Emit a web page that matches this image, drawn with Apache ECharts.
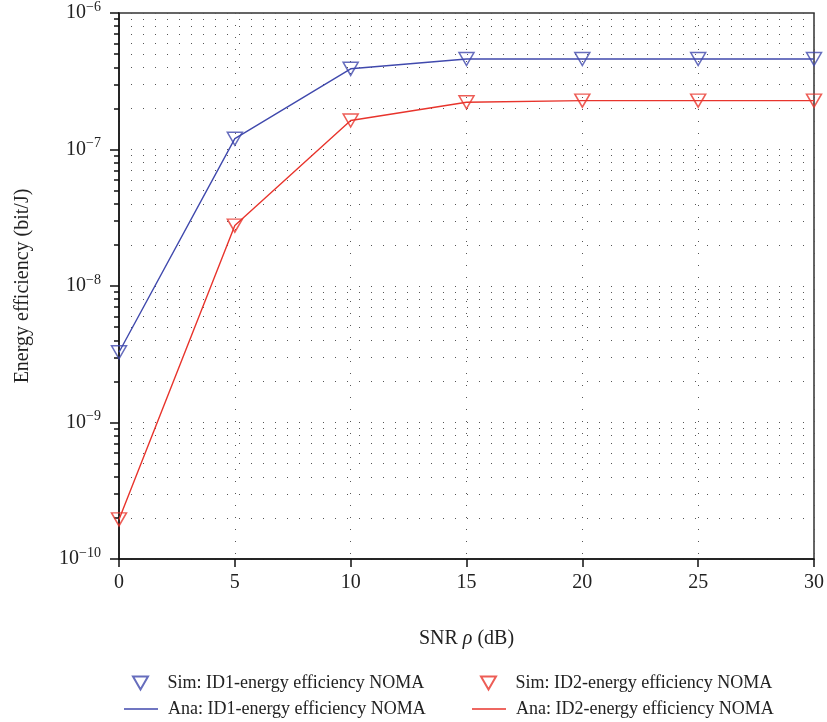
<!DOCTYPE html>
<html><head><meta charset="utf-8">
<script src="https://cdn.jsdelivr.net/npm/echarts@6/dist/echarts.min.js"></script>
<style>html,body{margin:0;padding:0;background:#fff}#c{width:827px;height:722px}</style>
</head><body><div id="c"></div>
<script>
// ---- data ----
const snr = [0, 5, 10, 15, 20, 25, 30];
const simID1 = [3.27e-9, 1.2e-7, 3.9e-7, 4.6e-7, 4.6e-7, 4.6e-7, 4.6e-7];
const simID2 = [1.95e-10, 2.77e-8, 1.63e-7, 2.22e-7, 2.28e-7, 2.28e-7, 2.28e-7];
const anaID1 = [3.27e-9, 1.2e-7, 3.9e-7, 4.6e-7, 4.6e-7, 4.6e-7, 4.6e-7];
const anaID2 = [1.95e-10, 2.77e-8, 1.63e-7, 2.22e-7, 2.28e-7, 2.28e-7, 2.28e-7];
const yMajorTicks = [1e-10, 1e-9, 1e-8, 1e-7, 1e-6];
const yMajorExp = ['\u221210', '\u22129', '\u22128', '\u22127', '\u22126'];
const yMinorTicks = [
  2e-10, 3e-10, 4e-10, 5e-10, 6e-10, 7e-10, 8e-10, 9e-10,
  2e-9, 3e-9, 4e-9, 5e-9, 6e-9, 7e-9, 8e-9, 9e-9,
  2e-8, 3e-8, 4e-8, 5e-8, 6e-8, 7e-8, 8e-8, 9e-8,
  2e-7, 3e-7, 4e-7, 5e-7, 6e-7, 7e-7, 8e-7, 9e-7
];
const names = {
  sim1: 'Sim: ID1-energy efficiency NOMA',
  sim2: 'Sim: ID2-energy efficiency NOMA',
  ana1: 'Ana: ID1-energy efficiency NOMA',
  ana2: 'Ana: ID2-energy efficiency NOMA'
};
// ---- style ----
const FONT = 'Liberation Serif';
const BLUE = '#4049ad';
const RED = '#e8342c';
const DOT = { color: '#555', width: 1, type: [1, 11] };
const TRI = 'path://M0,0 L15,0 L7.5,13 Z';
const zip = (a, b) => a.map((v, i) => [v, b[i]]);

const chart = echarts.init(document.getElementById('c'), null, { renderer: 'canvas' });
const legendText = { fontFamily: FONT, fontSize: 18, color: '#222', padding: [0, 0, 0, 5] };
function simLegend(name, left, top) {
  return { data: [{ name: name, icon: TRI }], left: left, top: top, itemWidth: 34, itemHeight: 13,
    symbolKeepAspect: true, selectedMode: false, textStyle: legendText };
}
function anaLegend(name, left, top) {
  return { data: [{ name: name, icon: 'rect' }], left: left, top: top, itemWidth: 34, itemHeight: 1.5,
    selectedMode: false, textStyle: legendText };
}
chart.setOption({
  animation: false,
  backgroundColor: '#fff',
  textStyle: { fontFamily: FONT },
  grid: { left: 119, right: 13, top: 10, bottom: 163, show: true, borderColor: '#333', borderWidth: 1.5, containLabel: false },
  legend: [
    simLegend(names.sim1, 127, 669),
    anaLegend(names.ana1, 119, 695),
    simLegend(names.sim2, 475, 669),
    anaLegend(names.ana2, 467, 695)
  ],
  xAxis: {
    type: 'value', min: 0, max: 30, interval: 5,
    name: '{n|SNR }{i|\u03c1}{n| (dB)}', nameLocation: 'middle', nameGap: 70,
    nameTextStyle: { rich: { n: { fontFamily: FONT, fontSize: 20, color: '#222' }, i: { fontFamily: FONT, fontSize: 20, fontStyle: 'italic', color: '#222' } } },
    axisLine: { lineStyle: { color: '#111', width: 1.5 } },
    axisTick: { inside: false, length: 8, lineStyle: { color: '#111', width: 1.5 } },
    axisLabel: { fontFamily: FONT, fontSize: 20, color: '#222', margin: 14 },
    splitLine: { show: true, lineStyle: DOT }
  },
  yAxis: [
    {
      type: 'log', logBase: 10, min: 1e-10, max: 1e-6, interval: 1,
      name: 'Energy efficiency (bit/J)', nameLocation: 'middle', nameGap: 86,
      nameTextStyle: { fontFamily: FONT, fontSize: 20, color: '#222' },
      axisLine: { show: true, lineStyle: { color: '#111', width: 1.5 } },
      axisTick: { show: true, inside: false, length: 9, lineStyle: { color: '#111', width: 1.5 } },
      axisLabel: {
        margin: 18,
        formatter: function (v) {
          let idx = 0, best = 1e9;
          yMajorTicks.forEach((t, i) => { const d = Math.abs(Math.log10(t) - Math.log10(v)); if (d < best) { best = d; idx = i; } });
          return '{b|10}{e|' + yMajorExp[idx] + '}';
        },
        rich: {
          b: { fontFamily: FONT, fontSize: 20, color: '#222' },
          e: { fontFamily: FONT, fontSize: 14, color: '#222', padding: [0, 0, 12, 0] }
        }
      },
      splitLine: { show: true, lineStyle: DOT }
    },
    {
      type: 'log', logBase: 10, min: 1e-10, max: 1e-6, position: 'left',
      axisLine: { show: false },
      axisTick: { show: true, inside: false, length: 5, customValues: yMinorTicks, lineStyle: { color: '#111', width: 1.5 } },
      axisLabel: { show: false, customValues: yMinorTicks },
      splitLine: { show: true, lineStyle: DOT }
    }
  ],
  series: [
    {
      name: names.ana1, type: 'line', yAxisIndex: 0, data: zip(snr, anaID1), symbol: 'none',
      lineStyle: { color: BLUE, width: 1.4 }, itemStyle: { color: BLUE }, z: 3
    },
    {
      name: names.ana2, type: 'line', yAxisIndex: 0, data: zip(snr, anaID2), symbol: 'none',
      lineStyle: { color: RED, width: 1.4 }, itemStyle: { color: RED }, z: 3
    },
    {
      name: names.sim1, type: 'scatter', yAxisIndex: 0, data: zip(snr, simID1),
      symbol: TRI, symbolSize: [15, 13],
      itemStyle: { color: 'rgba(255,255,255,0)', borderColor: BLUE, borderWidth: 1.5 }, z: 4
    },
    {
      name: names.sim2, type: 'scatter', yAxisIndex: 0, data: zip(snr, simID2),
      symbol: TRI, symbolSize: [15, 13],
      itemStyle: { color: 'rgba(255,255,255,0)', borderColor: RED, borderWidth: 1.5 }, z: 4
    }
  ]
});
</script></body></html>
